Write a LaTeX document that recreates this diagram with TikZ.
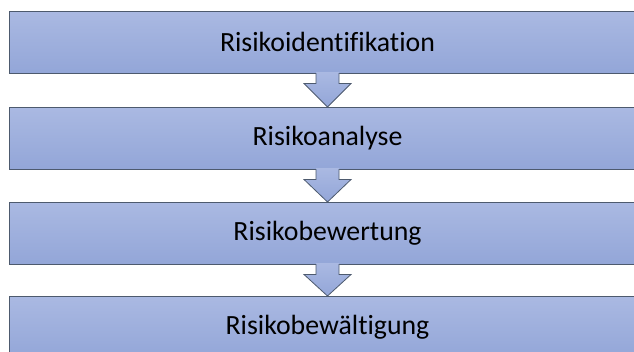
\documentclass[tikz,border=0pt]{standalone}
\usepackage{fontspec}
\setmainfont{Carlito}[Ligatures=NoCommon]
\usetikzlibrary{calc,shadows}

\definecolor{stagetop}{HTML}{AAB9E2}
\definecolor{stagebottom}{HTML}{93A6D8}
\definecolor{stageline}{HTML}{4D5A6E}

\tikzset{
  stage/.style={
    anchor=north west,
    minimum width=637pt, minimum height=62pt,
    inner sep=0pt, outer sep=0pt,
    top color=stagetop, bottom color=stagebottom,
    draw=stageline, line width=0.8pt,
    drop shadow={shadow xshift=0pt, shadow yshift=-1.2pt, fill=black!30, opacity=0.5},
    font=\fontsize{27.8}{32}\selectfont, text=black
  },
  flowfill/.style={top color=stagetop, bottom color=stagebottom, draw=none},
  flowedge/.style={draw=stageline, line width=0.8pt, line join=miter}
}

% block arrow between two stages: shaft 23 wide, head 47 wide
\newcommand{\flowarrow}[2]{%
  \path[flowfill] ($(#1.south)+(-11.5,-1)$) -- ++(0,11.5) -- ++(-12,0) -- (#2.north)
     -- ($(#1.south)+(23.5,10.5)$) -- ++(-12,0) -- ($(#1.south)+(11.5,-1)$) -- cycle;
  \draw[flowedge] ($(#1.south)+(-11.5,0)$) -- ++(0,10.5) -- ++(-12,0) -- (#2.north)
     -- ($(#1.south)+(23.5,10.5)$) -- ++(-12,0) -- ($(#1.south)+(11.5,0)$);
}

\begin{document}
\begin{tikzpicture}[x=1pt,y=-1pt]
  \useasboundingbox (0,0) rectangle (634,351);
  \clip (0,0) rectangle (634,351);

  \node[stage] (s1) at (9,11)  {Risikoidentifikation};
  \node[stage] (s2) at (9,107) {Risikoanalyse};
  \node[stage] (s3) at (9,202) {Risikobewertung};
  \node[stage] (s4) at (9,296) {Risikobewältigung};

  \flowarrow{s1}{s2}
  \flowarrow{s2}{s3}
  \flowarrow{s3}{s4}
\end{tikzpicture}
\end{document}
